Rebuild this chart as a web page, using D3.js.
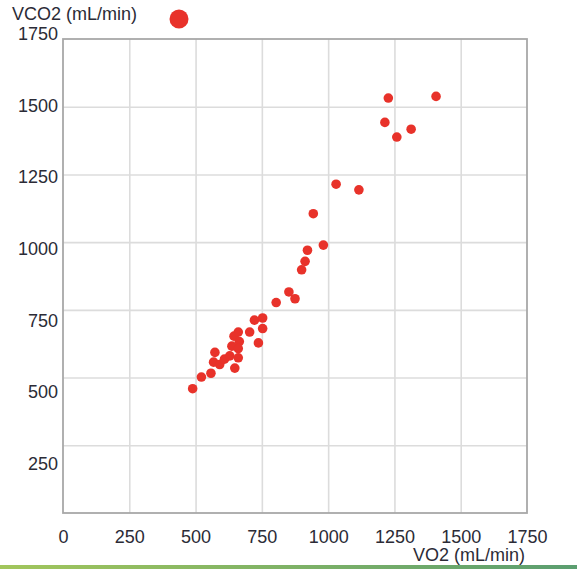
<!DOCTYPE html>
<html>
<head>
<meta charset="utf-8">
<script src="https://cdn.jsdelivr.net/npm/d3@7"></script>
<style>
  html, body { margin: 0; padding: 0; background: #fff; }
  svg { display: block; }
  text { font-family: "Liberation Sans", Arial, sans-serif; fill: #2b2b36; }
</style>
</head>
<body>
<svg id="chart" width="577" height="569"></svg>
<script>
// VO2 (mL/min) per measurement
const vo2 = [489, 522, 558, 573, 568, 591, 609, 629, 637, 645, 648, 661, 665, 661, 661,
             704, 722, 753, 753, 737, 804, 852, 875, 900, 913, 922, 982, 944, 1030, 1116,
             1227, 1407, 1214, 1259, 1313];
// VCO2 (mL/min) per measurement
const vco2 = [459, 502, 516, 593, 557, 548, 568, 580, 616, 653, 535, 668, 633, 607, 573,
              668, 712, 720, 681, 628, 777, 816, 791, 898, 929, 970, 989, 1105, 1214, 1193,
              1532, 1538, 1442, 1388, 1417];

const xTicks = [0, 250, 500, 750, 1000, 1250, 1500, 1750];
const yTicks = [250, 500, 750, 1000, 1250, 1500, 1750];
const xTitle = "VO2 (mL/min)";
const yTitle = "VCO2 (mL/min)";

const svg = d3.select("#chart");
const plotL = 63, plotR = 527, plotT = 39, plotB = 513;
const dotColor = "#e8322a";
const textColor = "#2b2b36";

const x = d3.scaleLinear().domain([0, 1750]).range([plotL, plotR]);
const y = d3.scaleLinear().domain([0, 1750]).range([plotB, plotT]);
// tick labels on the vertical axis sit on their own, slightly wider spacing
const yLabel = d3.scaleLinear().domain([0, 1750]).range([535, 34]);

// grid
svg.append("g")
  .attr("transform", `translate(0,${plotB})`)
  .call(d3.axisBottom(x).tickValues(xTicks.slice(1, -1)).tickSize(-(plotB - plotT)).tickFormat(""))
  .call(g => g.select(".domain").remove())
  .call(g => g.selectAll("line").attr("stroke", "#dcdcdc").attr("stroke-width", 1.6));

svg.append("g")
  .attr("transform", `translate(${plotL},0)`)
  .call(d3.axisLeft(y).tickValues(yTicks.slice(0, -1)).tickSize(-(plotR - plotL)).tickFormat(""))
  .call(g => g.select(".domain").remove())
  .call(g => g.selectAll("line").attr("stroke", "#dcdcdc").attr("stroke-width", 1.6));

// frame
svg.append("rect")
  .attr("x", plotL).attr("y", plotT)
  .attr("width", plotR - plotL).attr("height", plotB - plotT)
  .attr("fill", "none").attr("stroke", "#a8a8a8").attr("stroke-width", 1.8);

// x tick labels
svg.append("g")
  .attr("transform", `translate(0,${plotB + 14})`)
  .call(d3.axisBottom(x).tickValues(xTicks).tickSize(0).tickFormat(d3.format("d")))
  .call(g => g.select(".domain").remove())
  .call(g => g.selectAll("text").attr("font-size", 18).attr("fill", textColor));

// y tick labels
svg.append("g")
  .attr("transform", `translate(58,0)`)
  .call(d3.axisLeft(yLabel).tickValues(yTicks).tickSize(0).tickPadding(0).tickFormat(d3.format("d")))
  .call(g => g.select(".domain").remove())
  .call(g => g.selectAll("text").attr("font-size", 18).attr("fill", textColor));

// axis titles
svg.append("text")
  .attr("x", 12).attr("y", 20)
  .attr("font-size", 18)
  .text(yTitle);

svg.append("text")
  .attr("x", 525).attr("y", 561)
  .attr("text-anchor", "end")
  .attr("font-size", 18)
  .text(xTitle);

// legend marker
svg.append("circle")
  .attr("cx", 179).attr("cy", 19).attr("r", 9.5)
  .attr("fill", dotColor);

// points
svg.append("g")
  .selectAll("circle")
  .data(d3.range(vo2.length))
  .join("circle")
  .attr("cx", i => x(vo2[i]))
  .attr("cy", i => y(vco2[i]))
  .attr("r", 4.8)
  .attr("fill", dotColor);

// bottom band
const grad = svg.append("defs").append("linearGradient").attr("id", "band");
grad.append("stop").attr("offset", "0%").attr("stop-color", "#a2c65c");
grad.append("stop").attr("offset", "100%").attr("stop-color", "#5b9e70");
svg.append("rect")
  .attr("x", 0).attr("y", 565).attr("width", 577).attr("height", 4)
  .attr("fill", "url(#band)");
</script>
</body>
</html>
